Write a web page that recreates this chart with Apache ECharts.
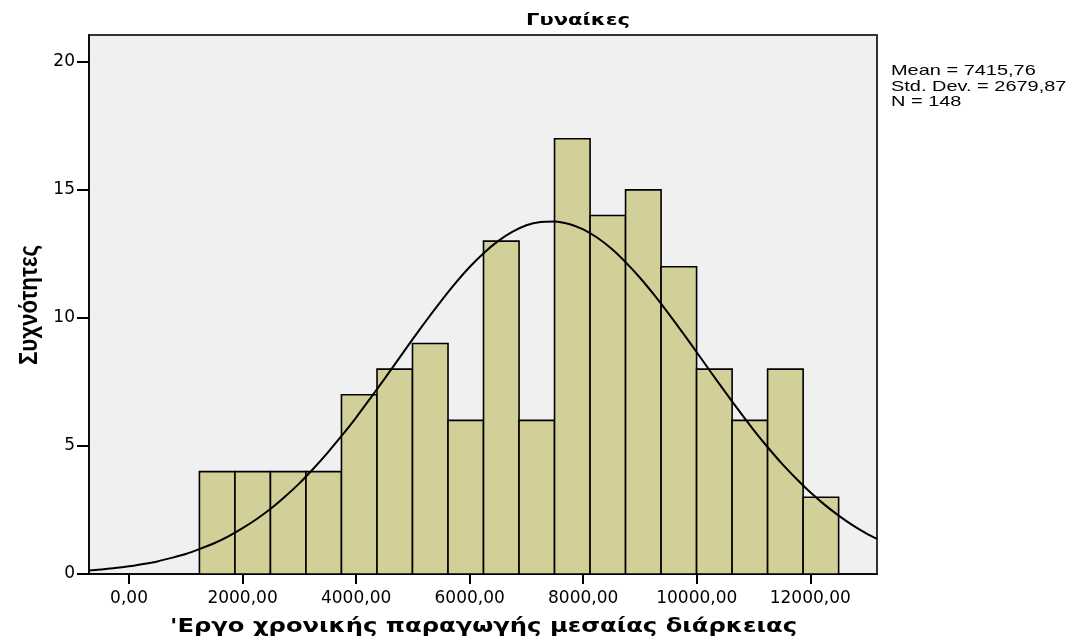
<!DOCTYPE html>
<html>
<head>
<meta charset="utf-8">
<script src="https://cdn.jsdelivr.net/npm/echarts@6/dist/echarts.min.js"></script>
<style>
html,body{margin:0;padding:0;background:#fff;}
#chart{width:1073px;height:636px;}
</style>
</head>
<body>
<div id="chart"></div>
<script>
// ---- data ----
const titleText = 'Γυναίκες';
const xAxisName = "'Εργο χρονικής παραγωγής μεσαίας διάρκειας";
const yAxisName = 'Συχνότητες';
const statsLines = ['Mean = 7415,76', 'Std. Dev. = 2679,87', 'N = 148'];

const binEdges = [1240, 1866, 2491, 3117, 3742, 4368, 4993, 5619, 6244, 6870,
                  7495, 8121, 8746, 9372, 9997, 10623, 11248, 11874, 12499];
const binCounts = [4, 4, 4, 4, 7, 8, 9, 6, 13, 6, 17, 14, 15, 12, 8, 6, 8, 3];

const curveX = [-705, -500, -250, 0, 250, 500, 750, 1000, 1250, 1500, 1750, 2000, 2250, 2500,
                2750, 3000, 3250, 3500, 3750, 4000, 4250, 4500, 4750, 5000, 5250, 5500, 5750,
                6000, 6250, 6500, 6750, 7000, 7250, 7500, 7750, 8000, 8250, 8500, 8750, 9000,
                9250, 9500, 9750, 10000, 10250, 10500, 10750, 11000, 11250, 11500, 11750,
                12000, 12250, 12500, 12750, 13000, 13175];
const curveY = [0.14, 0.18, 0.23, 0.30, 0.39, 0.49, 0.63, 0.78, 0.98, 1.20, 1.47, 1.79, 2.15, 2.56,
                3.03, 3.54, 4.12, 4.74, 5.41, 6.11, 6.86, 7.62, 8.40, 9.18, 9.94, 10.67, 11.36,
                11.99, 12.54, 13.00, 13.36, 13.62, 13.75, 13.77, 13.67, 13.46, 13.13, 12.70, 12.17, 11.57,
                10.90, 10.18, 9.43, 8.66, 7.88, 7.11, 6.36, 5.63, 4.95, 4.31, 3.73,
                3.19, 2.71, 2.28, 1.90, 1.57, 1.37];

const xTicks = [0, 2000, 4000, 6000, 8000, 10000, 12000];
const yTicks = [0, 5, 10, 15, 20];
const xMin = -705, xMax = 13175, yMin = 0, yMax = 21.05;

// ---- build ----
const barData = binCounts.map((c, i) => [binEdges[i], binEdges[i + 1], c]);
const curveData = curveX.map((x, i) => [x, curveY[i]]);

const measureCtx = document.createElement('canvas').getContext('2d');
function fit(text, font, target) {
  measureCtx.font = font;
  return target / measureCtx.measureText(text).width;
}

const statFont = '15px "Liberation Sans"';
const titleFont = 'bold 16px "DejaVu Sans"';
const xNameFont = 'bold 20px "DejaVu Sans"';
const yNameFont = 'bold 21px "Liberation Sans"';

const chart = echarts.init(document.getElementById('chart'), null, {renderer: 'canvas'});

const graphics = [
  {
    type: 'text', x: 526, y: 21,
    scaleX: fit(titleText, titleFont, 104),
    style: {text: titleText, font: titleFont, fill: '#000', align: 'left', verticalAlign: 'middle'}
  },
  {
    type: 'text', x: 170, y: 627,
    scaleX: fit(xAxisName, xNameFont, 627),
    style: {text: xAxisName, font: xNameFont, fill: '#000', align: 'left', verticalAlign: 'middle'}
  },
  {
    type: 'text', x: 30, y: 305, rotation: Math.PI / 2,
    scaleX: fit(yAxisName, yNameFont, 120), scaleY: 1.25,
    style: {text: yAxisName, font: yNameFont, fill: '#000', align: 'center', verticalAlign: 'middle'}
  }
];
statsLines.forEach((t, i) => {
  graphics.push({
    type: 'text', x: 891, y: 71 + i * 15.5,
    scaleX: 1.33,
    style: {text: t, font: statFont, fill: '#000', align: 'left', verticalAlign: 'middle'}
  });
});

chart.setOption({
  animation: false,
  backgroundColor: '#fff',
  grid: {
    left: 89, top: 35, width: 788, height: 539,
    show: true, backgroundColor: '#f0f0f0', borderColor: '#333', borderWidth: 2
  },
  xAxis: {
    type: 'value', min: xMin, max: xMax,
    splitLine: {show: false},
    axisLine: {show: true, onZero: false, lineStyle: {color: '#000', width: 1.5}},
    axisTick: {show: true, customValues: xTicks, length: 10, lineStyle: {color: '#000', width: 2}},
    axisLabel: {
      customValues: xTicks, margin: 16, color: '#000',
      fontFamily: 'DejaVu Sans', fontSize: 17,
      formatter: v => v.toFixed(2).replace('.', ',')
    }
  },
  yAxis: {
    type: 'value', min: yMin, max: yMax,
    splitLine: {show: false},
    axisLine: {show: true, onZero: false, lineStyle: {color: '#000', width: 1.5}},
    axisTick: {show: true, customValues: yTicks, length: 12, lineStyle: {color: '#000', width: 2}},
    axisLabel: {
      customValues: yTicks, margin: 14, color: '#000',
      fontFamily: 'DejaVu Sans', fontSize: 17
    }
  },
  graphic: graphics,
  series: [
    {
      type: 'custom',
      data: barData,
      encode: {x: [0, 1], y: 2},
      z: 2,
      renderItem: function (params, api) {
        const p0 = api.coord([api.value(0), api.value(2)]);
        const p1 = api.coord([api.value(1), 0]);
        return {
          type: 'rect',
          shape: {x: p0[0], y: p0[1], width: p1[0] - p0[0], height: p1[1] - p0[1]},
          style: {fill: '#d3cf98', stroke: '#000', lineWidth: 1.6}
        };
      }
    },
    {
      type: 'line',
      data: curveData,
      smooth: 0.2,
      showSymbol: false,
      z: 3,
      lineStyle: {color: '#000', width: 2}
    }
  ]
});
</script>
</body>
</html>
